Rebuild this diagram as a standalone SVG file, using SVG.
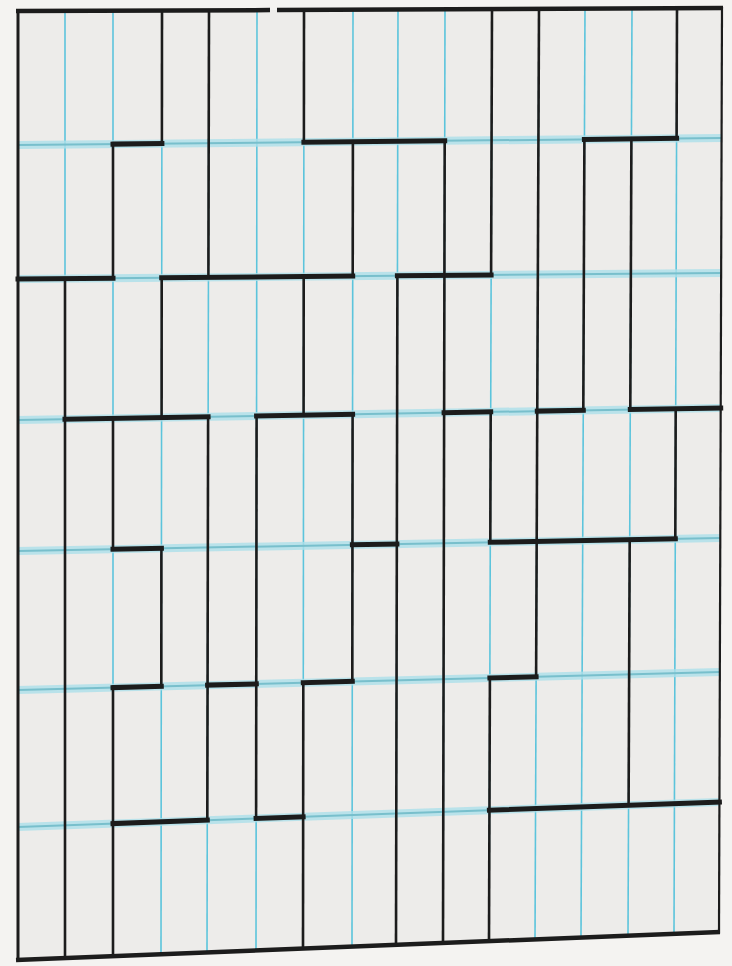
<svg xmlns="http://www.w3.org/2000/svg" width="732" height="966" viewBox="0 0 732 966">
<style>
.vb{stroke:#5cc4dc;stroke-width:1.6;fill:none}
.hb{stroke:#abe0ea;stroke-width:8;fill:none;opacity:0.8}
.hc{stroke:#78bfcc;stroke-width:2;fill:none}
.bh{stroke:#1c1c1c;stroke-width:5;fill:none;stroke-linecap:square}
.bv{stroke:#1c1c1c;stroke-width:2.6;fill:none}
.bd{stroke:#1c1c1c;fill:none}
</style>
<rect x="0" y="0" width="732" height="966" fill="#f4f3f1"/>
<polygon points="18,11 722,8 719,932 18,960" fill="#edecea"/>
<g id="blue-verticals">
<line class="vb" x1="65" y1="10.8" x2="65" y2="958.1"/>
<line class="vb" x1="113" y1="10.6" x2="113" y2="956.2"/>
<line class="vb" x1="162" y1="10.4" x2="161" y2="954.3"/>
<line class="vb" x1="209" y1="10.2" x2="207" y2="952.4"/>
<line class="vb" x1="257" y1="10" x2="256" y2="950.5"/>
<line class="vb" x1="304" y1="9.8" x2="303" y2="948.6"/>
<line class="vb" x1="353" y1="9.6" x2="352" y2="946.7"/>
<line class="vb" x1="398" y1="9.4" x2="396" y2="944.9"/>
<line class="vb" x1="445" y1="9.2" x2="443" y2="943"/>
<line class="vb" x1="492" y1="9" x2="489" y2="941.2"/>
<line class="vb" x1="539" y1="8.8" x2="535" y2="939.3"/>
<line class="vb" x1="585" y1="8.6" x2="581" y2="937.5"/>
<line class="vb" x1="632" y1="8.4" x2="628" y2="935.6"/>
<line class="vb" x1="677" y1="8.2" x2="674" y2="933.8"/>
</g>
<g id="blue-horizontals">
<line class="hb" x1="18" y1="145" x2="721.6" y2="138"/>
<line class="hb" x1="18" y1="279" x2="721.1" y2="273"/>
<line class="hb" x1="18" y1="420" x2="720.7" y2="408"/>
<line class="hb" x1="18" y1="551" x2="720.3" y2="538"/>
<line class="hb" x1="18" y1="690" x2="719.9" y2="672"/>
<line class="hb" x1="18" y1="827" x2="719.4" y2="802"/>
<line class="hc" x1="18" y1="145" x2="721.6" y2="138"/>
<line class="hc" x1="18" y1="279" x2="721.1" y2="273"/>
<line class="hc" x1="18" y1="420" x2="720.7" y2="408"/>
<line class="hc" x1="18" y1="551" x2="720.3" y2="538"/>
<line class="hc" x1="18" y1="690" x2="719.9" y2="672"/>
<line class="hc" x1="18" y1="827" x2="719.4" y2="802"/>
</g>
<g id="black-verticals">
<line class="bv" x1="65" y1="278.6" x2="65" y2="958.1"/>
<line class="bv" x1="113" y1="144.1" x2="113" y2="278.2"/>
<line class="bv" x1="113" y1="418.4" x2="113" y2="549.2"/>
<line class="bv" x1="113" y1="687.6" x2="113" y2="956.2"/>
<line class="bv" x1="162" y1="10.4" x2="161.9" y2="143.6"/>
<line class="bv" x1="161.7" y1="277.8" x2="161.6" y2="417.5"/>
<line class="bv" x1="161.4" y1="548.3" x2="161.3" y2="686.3"/>
<line class="bv" x1="209" y1="10.2" x2="208.4" y2="277.4"/>
<line class="bv" x1="208.1" y1="416.7" x2="207.3" y2="820.2"/>
<line class="bv" x1="256.6" y1="415.9" x2="256.1" y2="818.5"/>
<line class="bv" x1="304" y1="9.8" x2="303.9" y2="142.2"/>
<line class="bv" x1="303.7" y1="276.6" x2="303.6" y2="415.1"/>
<line class="bv" x1="303.3" y1="682.7" x2="303" y2="948.6"/>
<line class="bv" x1="352.9" y1="141.7" x2="352.7" y2="276.1"/>
<line class="bv" x1="352.6" y1="414.3" x2="352.3" y2="681.4"/>
<line class="bv" x1="397.4" y1="275.8" x2="396" y2="944.9"/>
<line class="bv" x1="444.7" y1="140.8" x2="443" y2="943"/>
<line class="bv" x1="492" y1="9" x2="491.1" y2="275"/>
<line class="bv" x1="490.7" y1="411.9" x2="490.3" y2="542.3"/>
<line class="bv" x1="489.9" y1="677.9" x2="489" y2="941.2"/>
<line class="bv" x1="539" y1="8.8" x2="536.1" y2="676.7"/>
<line class="bv" x1="584.4" y1="139.4" x2="583.3" y2="410.3"/>
<line class="bv" x1="631.4" y1="138.9" x2="630.3" y2="409.5"/>
<line class="bv" x1="629.7" y1="539.7" x2="628.6" y2="805.2"/>
<line class="bv" x1="677" y1="8.2" x2="676.6" y2="138.4"/>
<line class="bv" x1="675.7" y1="408.8" x2="675.3" y2="538.8"/>
</g>
<g id="black-horizontals">
<line class="bh" x1="113" y1="144.1" x2="161.9" y2="143.6"/>
<line class="bh" x1="303.9" y1="142.2" x2="444.7" y2="140.8"/>
<line class="bh" x1="584.4" y1="139.4" x2="676.6" y2="138.4"/>
<line class="bh" x1="18" y1="279" x2="113" y2="278.2"/>
<line class="bh" x1="161.7" y1="277.8" x2="352.7" y2="276.1"/>
<line class="bh" x1="397.4" y1="275.8" x2="491.1" y2="275"/>
<line class="bh" x1="65" y1="419.2" x2="208.1" y2="416.7"/>
<line class="bh" x1="256.6" y1="415.9" x2="352.6" y2="414.3"/>
<line class="bh" x1="444.1" y1="412.7" x2="490.7" y2="411.9"/>
<line class="bh" x1="537.3" y1="411.1" x2="583.3" y2="410.3"/>
<line class="bh" x1="630.3" y1="409.5" x2="720.7" y2="408"/>
<line class="bh" x1="113" y1="549.2" x2="161.4" y2="548.3"/>
<line class="bh" x1="352.4" y1="544.8" x2="396.9" y2="544"/>
<line class="bh" x1="490.3" y1="542.3" x2="675.3" y2="538.8"/>
<line class="bh" x1="113" y1="687.6" x2="161.3" y2="686.3"/>
<line class="bh" x1="207.6" y1="685.1" x2="256.3" y2="683.9"/>
<line class="bh" x1="303.3" y1="682.7" x2="352.3" y2="681.4"/>
<line class="bh" x1="489.9" y1="677.9" x2="536.1" y2="676.7"/>
<line class="bh" x1="113" y1="823.6" x2="207.3" y2="820.2"/>
<line class="bh" x1="256.1" y1="818.5" x2="303.1" y2="816.9"/>
<line class="bh" x1="489.4" y1="810.2" x2="719.4" y2="802"/>
</g>
<g id="border">
<line class="bd" stroke-width="4.5" x1="16" y1="11" x2="270" y2="10.1"/>
<line class="bd" stroke-width="4.5" x1="277" y1="10" x2="723" y2="8"/>
<line class="bd" stroke-width="3" x1="18" y1="10" x2="18" y2="961"/>
<line class="bd" stroke-width="4.5" x1="16" y1="960" x2="720" y2="932"/>
<line class="bd" stroke-width="2.2" stroke="#333" x1="722" y1="7" x2="719" y2="933"/>
</g>
</svg>
